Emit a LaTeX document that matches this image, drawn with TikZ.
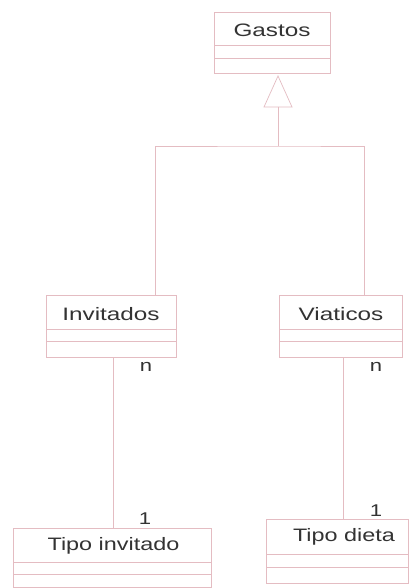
\documentclass[tikz,border=0pt]{standalone}
\usepackage{fontspec}
\setmainfont{Liberation Sans}
\usepackage{graphicx}
\definecolor{umlline}{HTML}{E4BCC2}
\definecolor{umltext}{HTML}{333333}
\begin{document}
\begin{tikzpicture}[x=1pt,y=-1pt,
  classbox/.style={draw=umlline, line width=0.7pt, rectangle, inner sep=0pt},
  title/.style={text=umltext, font=\fontsize{18}{18}\selectfont, inner sep=0pt},
  mult/.style={text=umltext, font=\fontsize{17}{17}\selectfont, inner sep=0pt},
  conn/.style={draw=umlline, line width=0.7pt}]
\useasboundingbox[fill=white] (0,0) rectangle (411,588);

% Gastos
\node[classbox, minimum width=116pt, minimum height=61pt] (gastos) at (272,42.5) {};
\draw[conn] (214,45) -- (330,45) (214,58) -- (330,58);
\node[title] (tg) at (272,30.5) {\scalebox{1.35}[1]{Gastos}};

% Invitados
\node[classbox, minimum width=130pt, minimum height=62pt] (inv) at (111,326) {};
\draw[conn] (46,329) -- (176,329) (46,341) -- (176,341);
\node[title] (ti) at (111,314) {\scalebox{1.35}[1]{Invitados}};

% Viaticos
\node[classbox, minimum width=123pt, minimum height=62pt] (via) at (340.5,326) {};
\draw[conn] (279,329) -- (402,329) (279,341) -- (402,341);
\node[title] (tv) at (341,314) {\scalebox{1.35}[1]{Viaticos}};

% Tipo invitado
\node[classbox, minimum width=198pt, minimum height=59pt] (tinv) at (112,557.5) {};
\draw[conn] (13,562) -- (211,562) (13,574) -- (211,574);
\node[title] (tti) at (113.5,546) {\scalebox{1.3}[1]{Tipo invitado}};

% Tipo dieta
\node[classbox, minimum width=142pt, minimum height=64pt] (tdie) at (337,551) {};
\draw[conn] (266,554) -- (408,554) (266,567) -- (408,567);
\node[title] (ttd) at (344,537) {\scalebox{1.3}[1]{Tipo dieta}};

% generalization
\coordinate (apex) at (278,76);
\coordinate (tbase) at (278,107);
\coordinate (join) at (278,146);
\draw[conn] (apex) -- (264,107) -- (292,107) -- cycle;
\draw[conn] (tbase) -- (join);
\draw[conn] (inv.north -| 155,0) |- (join) -| (via.north -| 364,0);

% associations
\draw[conn] (inv.south -| 113,0) -- (tinv.north -| 113,0);
\draw[conn] (via.south -| 343,0) -- (tdie.north -| 343,0);

% multiplicities
\node[mult] (n1) at (146,367) {\scalebox{1.3}[1]{n}};
\node[mult] (n2) at (376,367) {\scalebox{1.3}[1]{n}};
\node[mult] (o1) at (145,519) {\scalebox{1.3}[1]{1}};
\node[mult] (o2) at (376,511) {\scalebox{1.3}[1]{1}};
\end{tikzpicture}
\end{document}
